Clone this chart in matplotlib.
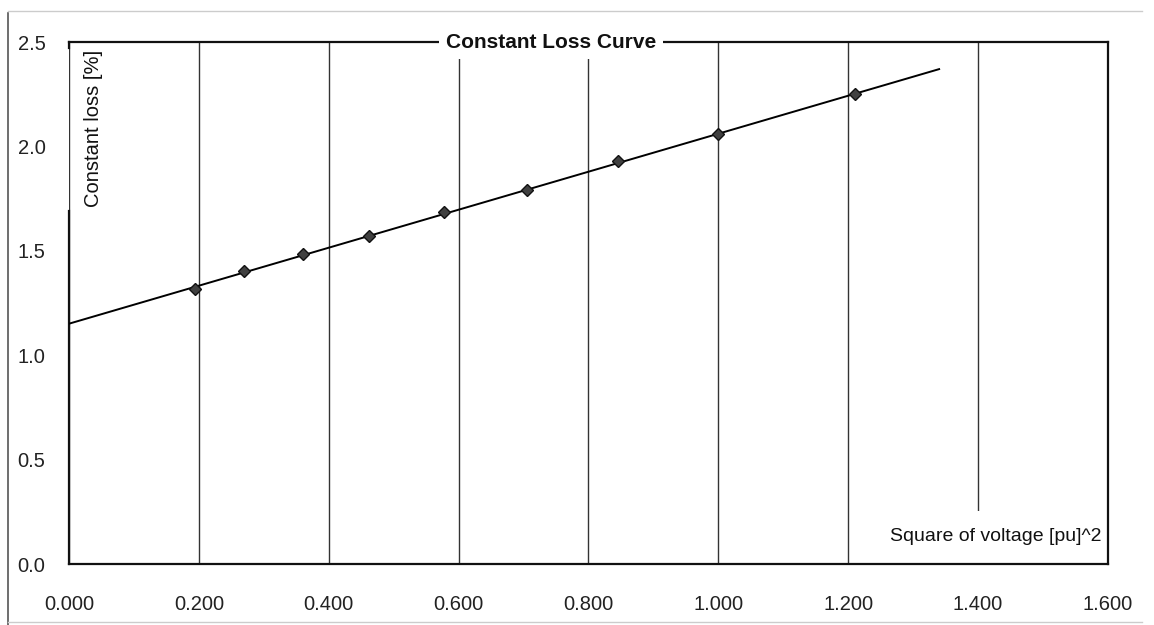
import numpy as np
import matplotlib
matplotlib.use('Agg')
import matplotlib.pyplot as plt
from matplotlib.lines import Line2D

plt.rcParams['font.family'] = ['Liberation Sans', 'DejaVu Sans']

# measured points (square of voltage vs constant loss)
volt_sq = [0.194, 0.270, 0.360, 0.462, 0.578, 0.706, 0.846, 1.000, 1.210]
const_loss = [1.316, 1.402, 1.483, 1.569, 1.684, 1.789, 1.928, 2.057, 2.249]
trend_range = [0.0, 1.34]

x_ticks = [0.0, 0.2, 0.4, 0.6, 0.8, 1.0, 1.2, 1.4, 1.6]
y_ticks = [0.0, 0.5, 1.0, 1.5, 2.0, 2.5]

fig = plt.figure(figsize=(11.54, 6.25), dpi=100)
ax = fig.add_axes([0.0598, 0.0976, 0.9003, 0.8352])

# linear trend line through the points
k, b = np.polyfit(volt_sq, const_loss, 1)
tx = np.array(trend_range)
ax.plot(tx, k * tx + b, color='black', lw=1.4, zorder=3)
ax.plot(volt_sq, const_loss, linestyle='none', marker='D', ms=6.5,
        mfc='#404040', mec='#111111', mew=1.0, zorder=4)

ax.set_xlim(0, 1.6)
ax.set_ylim(0, 2.5)
ax.set_xticks(x_ticks)
ax.set_xticklabels(['%.3f' % v for v in x_ticks])
ax.set_yticks(y_ticks)
ax.set_yticklabels(['%.1f' % v for v in y_ticks])
ax.tick_params(axis='both', length=0, labelsize=14.5, colors='#222222')
ax.tick_params(axis='x', pad=22)
ax.tick_params(axis='y', pad=17)

ax.grid(axis='x', color='#333333', lw=1.0)
ax.grid(axis='y', visible=False)
ax.set_axisbelow(True)
for s in ax.spines.values():
    s.set_linewidth(1.6)
    s.set_color('#111111')
    s.set_zorder(2.5)

# left border is broken behind the y label, with a small corner at the top
ax.spines['left'].set_bounds(0, 1.69)
ax.plot([0, 0], [2.47, 2.5], color='#111111', lw=1.6, clip_on=False, zorder=2.5)

ax.text(0.464, 1.0, 'Constant Loss Curve', transform=ax.transAxes,
        ha='center', va='center', fontsize=15, fontweight='bold',
        color='#111111', zorder=5, clip_on=False,
        bbox=dict(boxstyle='square,pad=0.35', fc='white', ec='none'))
ax.text(0.0235, 0.835, 'Constant loss [%]', transform=ax.transAxes,
        ha='center', va='center', rotation=90, fontsize=14.5,
        color='#111111', zorder=5, clip_on=False)
ax.text(0.994, 0.052, 'Square of voltage [pu]^2', transform=ax.transAxes,
        ha='right', va='center', fontsize=14, color='#111111', zorder=2.2,
        bbox=dict(boxstyle='square,pad=0.9', fc='white', ec='none'))

# scanned page border
fig.add_artist(Line2D([0.007, 0.007], [0.0, 0.98], transform=fig.transFigure,
                      color='#555555', lw=1.2))
fig.add_artist(Line2D([0.007, 0.99], [0.982, 0.982], transform=fig.transFigure,
                      color='#cccccc', lw=1.0))
fig.add_artist(Line2D([0.007, 0.99], [0.005, 0.005], transform=fig.transFigure,
                      color='#cccccc', lw=1.0))

fig.savefig('out.png', dpi=100)
